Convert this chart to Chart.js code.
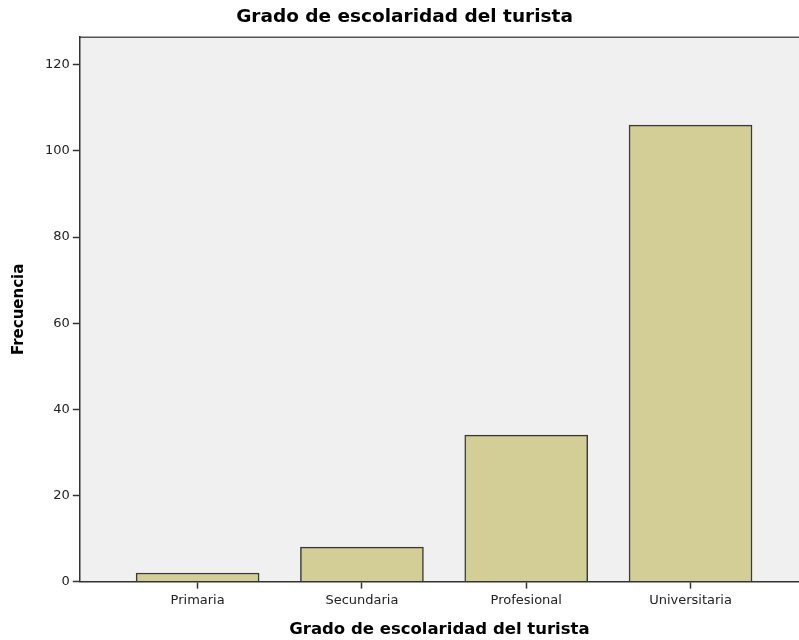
<!DOCTYPE html>
<html>
<head>
<meta charset="utf-8">
<script src="https://cdn.jsdelivr.net/npm/chart.js@4"></script>
<style>
	body { margin: 0; background: #fff; overflow: hidden; }
</style>
</head>
<body>
<canvas id="myChart" width="799" height="640"></canvas>
<script>
const categories = ['Primaria', 'Secundaria', 'Profesional', 'Universitaria'];
const frecuencias = [2, 8, 34, 106];
const yTicks = [0, 20, 40, 60, 80, 100, 120];

const font = 'DejaVu Sans';

// gray plot panel with a thin top border, like SPSS
const panelBg = {
	id: 'panelBg',
	beforeDraw(chart) {
		const a = chart.chartArea;
		const ctx = chart.ctx;
		ctx.save();
		ctx.fillStyle = '#f0f0f0';
		ctx.fillRect(a.left, a.top, a.right - a.left, a.bottom - a.top);
		ctx.strokeStyle = '#555';
		ctx.lineWidth = 1.5;
		ctx.beginPath();
		ctx.moveTo(a.left, a.top);
		ctx.lineTo(a.right, a.top);
		ctx.stroke();
		ctx.restore();
	}
};

function createBarChart(elID) {
	let ctx = document.getElementById(elID).getContext('2d');
	let myChart = new Chart(ctx, {
		type: 'bar',
		data: {
			datasets: [{
				label: 'Frecuencia',
				data: categories.map((c, i) => ({ x: i + 1, y: frecuencias[i] })),
				backgroundColor: '#d2ce96',
				borderColor: '#3a3a3a',
				borderWidth: 1.5,
				barThickness: 123
			}]
		},
		options: {
			responsive: false,
			devicePixelRatio: 1,
			animation: false,
			layout: { padding: { top: 6, left: 10, right: 0, bottom: 0 } },
			plugins: {
				legend: { display: false },
				tooltip: { enabled: false },
				title: {
					display: true,
					text: 'Grado de escolaridad del turista',
					color: '#000',
					font: { family: font, size: 18.5, weight: 'bold' },
					padding: { top: 0, bottom: 9 }
				}
			},
			scales: {
				x: {
					type: 'linear',
					offset: false,
					min: 0.283,
					max: 4.66,
					afterBuildTicks: axis => { axis.ticks = categories.map((c, i) => ({ value: i + 1 })); },
					ticks: {
						callback: v => categories[v - 1],
						color: '#222',
						font: { family: font, size: 13 },
						padding: 4,
						maxRotation: 0
					},
					grid: {
						offset: false,
						drawOnChartArea: false,
						tickLength: 7,
						tickWidth: 1.5,
						color: '#333'
					},
					border: { color: '#333', width: 1.5 },
					title: {
						display: true,
						text: 'Grado de escolaridad del turista',
						color: '#000',
						font: { family: font, size: 16.5, weight: 'bold' },
						padding: { top: 8, bottom: 0 }
					}
				},
				y: {
					min: 0,
					max: 126.4,
					afterBuildTicks: axis => { axis.ticks = yTicks.map(v => ({ value: v })); },
					ticks: {
						color: '#222',
						font: { family: font, size: 13 },
						padding: 3
					},
					grid: {
						drawOnChartArea: false,
						tickLength: 7,
						tickWidth: 1.5,
						color: '#333'
					},
					border: { color: '#333', width: 1.5 },
					title: {
						display: true,
						text: 'Frecuencia',
						color: '#000',
						font: { family: font, size: 15, weight: 'bold' },
						padding: { top: 0, bottom: 14 }
					}
				}
			}
		},
		plugins: [panelBg]
	});
}

createBarChart('myChart');
</script>
</body>
</html>
